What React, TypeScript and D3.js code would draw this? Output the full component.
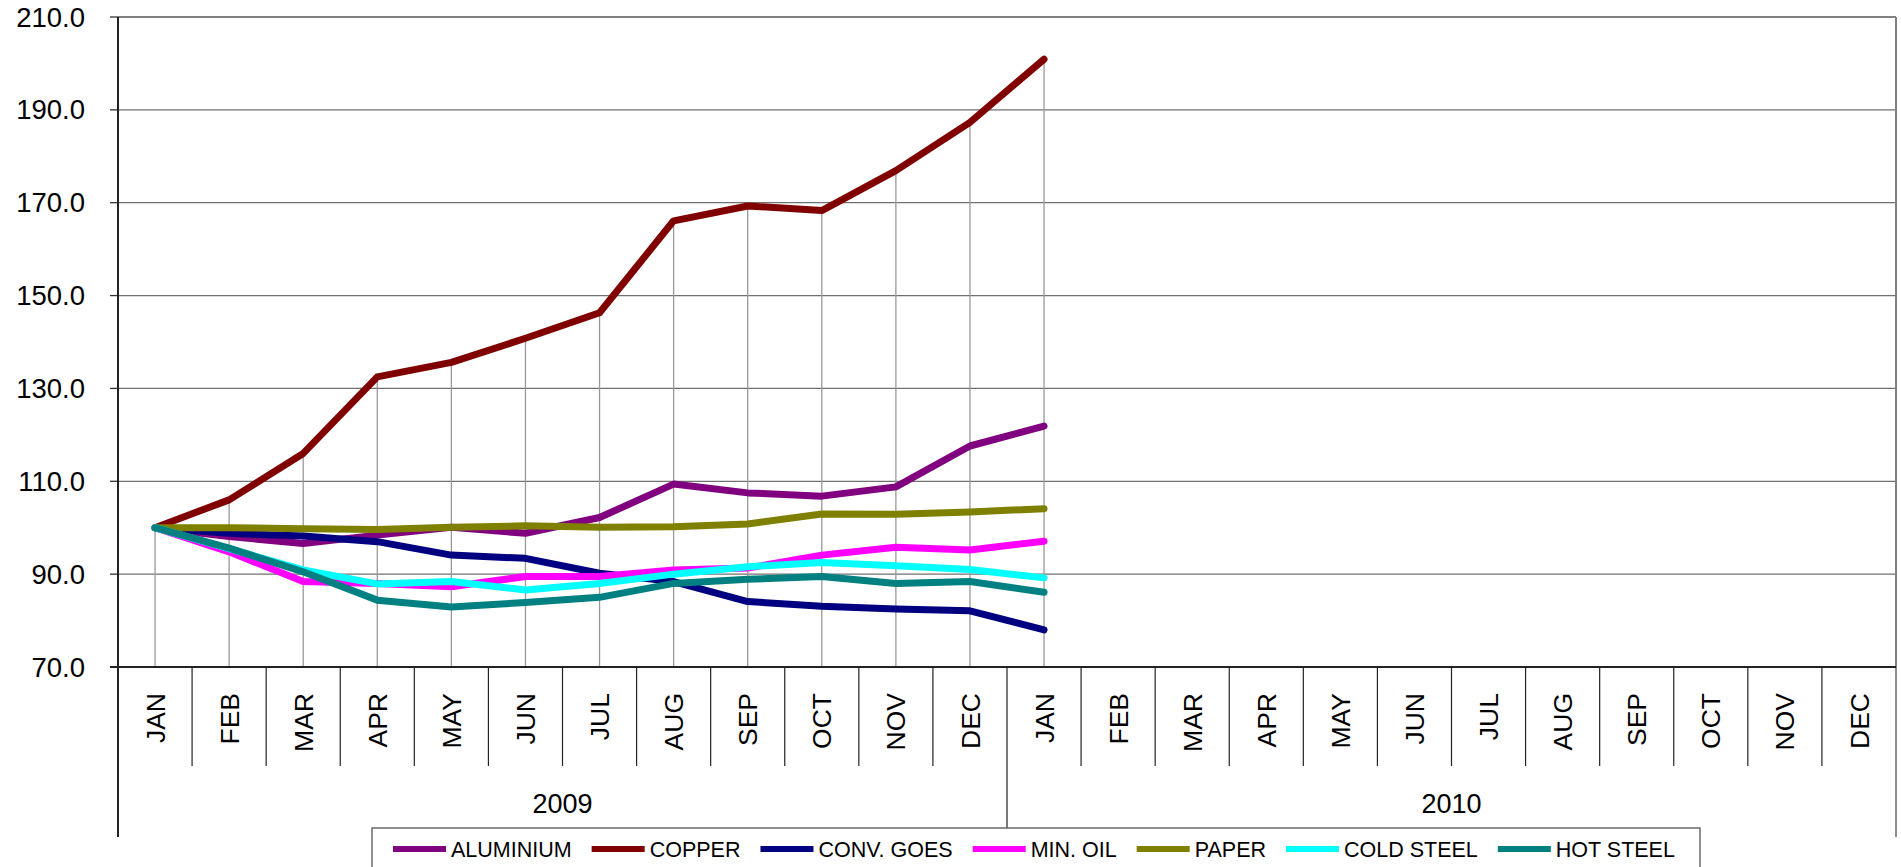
import React, { useEffect, useRef } from "react";
import * as d3 from "d3";

const months = ["JAN", "FEB", "MAR", "APR", "MAY", "JUN", "JUL", "AUG", "SEP", "OCT", "NOV", "DEC"];
const years = ["2009", "2010"];
const yTicks = [70, 90, 110, 130, 150, 170, 190, 210];

const seriesNames = ["ALUMINIUM", "COPPER", "CONV. GOES", "MIN. OIL", "PAPER", "COLD STEEL", "HOT STEEL"];
const seriesColors = ["#800080", "#800000", "#000080", "#FF00FF", "#808000", "#00FFFF", "#008080"];

const aluminium = [100, 98.1, 96.6, 98.4, 100.1, 98.8, 102.2, 109.4, 107.5, 106.8, 108.8, 117.6, 121.9];
const copper = [100, 106.0, 116.0, 132.5, 135.6, 140.8, 146.3, 166.1, 169.3, 168.3, 176.9, 187.3, 200.9];
const convGoes = [100, 98.8, 98.2, 97.0, 94.1, 93.4, 90.2, 88.4, 84.1, 83.1, 82.5, 82.1, 78.0];
const minOil = [100, 94.8, 88.4, 88.0, 87.3, 89.5, 89.5, 90.9, 91.3, 94.1, 95.8, 95.2, 97.1];
const paper = [100, 100.0, 99.8, 99.6, 100.1, 100.4, 100.1, 100.2, 100.8, 102.95, 102.9, 103.4, 104.1];
const coldSteel = [100, 95.5, 90.9, 87.9, 88.4, 86.6, 88.0, 90.0, 91.6, 92.5, 91.8, 91.0, 89.2];
const hotSteel = [100, 95.6, 90.5, 84.4, 82.9, 83.9, 85.0, 88.0, 88.9, 89.5, 88.0, 88.4, 86.1];

const seriesValues = [aluminium, copper, convGoes, minOil, paper, coldSteel, hotSteel];

export default function App() {
  const ref = useRef<SVGSVGElement | null>(null);

  useEffect(() => {
    const svg = d3.select(ref.current);
    svg.selectAll("*").remove();
    const font = "'Liberation Sans', Arial, sans-serif";

    const left = 118, right = 1896, top = 17, bottom = 667;
    const cats = d3.range(years.length * months.length);
    const x = d3.scaleBand<number>().domain(cats).range([left, right]);
    const bw = x.bandwidth();
    const cx = (i: number) => (x(i) as number) + bw / 2;
    const y = d3.scaleLinear().domain([70, 210]).range([bottom, top]);

    // horizontal gridlines
    svg.append("g").selectAll("line").data(yTicks.filter((t) => t > 70 && t < 210)).join("line")
      .attr("x1", left).attr("x2", right).attr("y1", (d) => y(d)).attr("y2", (d) => y(d))
      .attr("stroke", "#707070").attr("stroke-width", 1.3);

    // plot border top & right
    svg.append("line").attr("x1", left).attr("x2", right).attr("y1", y(210)).attr("y2", y(210))
      .attr("stroke", "#808080").attr("stroke-width", 2);
    svg.append("line").attr("x1", right).attr("x2", right).attr("y1", y(210)).attr("y2", bottom)
      .attr("stroke", "#808080").attr("stroke-width", 2);

    // drop lines
    const n = seriesValues[0].length;
    const maxes = d3.range(n).map((i) => d3.max(seriesValues, (s) => s[i]) as number);
    svg.append("g").selectAll("line").data(maxes).join("line")
      .attr("x1", (_d, i) => cx(i)).attr("x2", (_d, i) => cx(i))
      .attr("y1", (d) => y(d)).attr("y2", bottom)
      .attr("stroke", "#999").attr("stroke-width", 1.3);

    // y axis ticks and labels
    const yg = svg.append("g");
    yg.selectAll("line").data(yTicks).join("line")
      .attr("x1", left - 8).attr("x2", left).attr("y1", (d) => y(d)).attr("y2", (d) => y(d))
      .attr("stroke", "#333").attr("stroke-width", 1.3);
    yg.selectAll("text").data(yTicks).join("text")
      .attr("x", 85).attr("y", (d) => y(d)).attr("dy", "0.35em")
      .attr("text-anchor", "end").attr("font-family", font).attr("font-size", 27.5)
      .attr("fill", "#000").text((d) => d3.format(".1f")(d));

    // category axis structure
    const ag = svg.append("g");
    cats.forEach((i) => {
      if (i % months.length !== 0) {
        ag.append("line").attr("x1", x(i) as number).attr("x2", x(i) as number)
          .attr("y1", bottom).attr("y2", 766).attr("stroke", "#222").attr("stroke-width", 1.2);
      }
    });
    years.forEach((_yr, k) => {
      const xb = x(k * months.length) as number;
      ag.append("line").attr("x1", xb).attr("x2", xb).attr("y1", k === 0 ? top : bottom).attr("y2", 837)
        .attr("stroke", "#222").attr("stroke-width", k === 0 ? 2 : 1.2);
    });
    ag.append("line").attr("x1", right).attr("x2", right).attr("y1", bottom).attr("y2", 837)
      .attr("stroke", "#666").attr("stroke-width", 1.5);
    ag.append("line").attr("x1", left - 8).attr("x2", right).attr("y1", bottom).attr("y2", bottom)
      .attr("stroke", "#222").attr("stroke-width", 2);

    // month labels
    cats.forEach((i) => {
      ag.append("text")
        .attr("transform", `translate(${cx(i)},693) rotate(-90)`)
        .attr("dy", "0.36em").attr("text-anchor", "end")
        .attr("font-family", font).attr("font-size", 26.5).attr("fill", "#000")
        .text(months[i % months.length]);
    });
    // year labels
    years.forEach((yr, k) => {
      const x0 = x(k * months.length) as number;
      const x1 = (x((k + 1) * months.length - 1) as number) + bw;
      ag.append("text").attr("x", (x0 + x1) / 2).attr("y", 804).attr("dy", "0.35em")
        .attr("text-anchor", "middle").attr("font-family", font).attr("font-size", 27)
        .attr("fill", "#000").text(yr);
    });

    // series lines
    const line = d3.line<number>().x((_d, i) => cx(i)).y((d) => y(d));
    svg.append("g").selectAll("path").data(seriesValues).join("path")
      .attr("d", (d) => line(d) as string)
      .attr("fill", "none").attr("stroke", (_d, i) => seriesColors[i])
      .attr("stroke-width", 7).attr("stroke-linejoin", "round").attr("stroke-linecap", "round");

    // legend
    const lg = svg.append("g");
    const box = lg.append("rect").attr("x", 372).attr("y", 828).attr("width", 1328).attr("height", 60)
      .attr("fill", "#fff").attr("stroke", "#555").attr("stroke-width", 1.3);
    let lx = 393;
    seriesNames.forEach((name, i) => {
      lg.append("line").attr("x1", lx).attr("x2", lx + 53).attr("y1", 849).attr("y2", 849)
        .attr("stroke", seriesColors[i]).attr("stroke-width", 6);
      const t = lg.append("text").attr("x", lx + 58).attr("y", 849).attr("dy", "0.36em")
        .attr("font-family", font).attr("font-size", 21.5).attr("fill", "#000").text(name);
      const w = (t.node() as SVGTextElement).getComputedTextLength();
      lx = lx + 58 + w + 20;
    });
    box.attr("width", Math.max(1328, lx - 372 - 12));
  }, []);

  return (
    <svg
      ref={ref}
      width={1901}
      height={867}
      style={{ position: "fixed", left: 0, top: 0, background: "#fff" }}
    />
  );
}
